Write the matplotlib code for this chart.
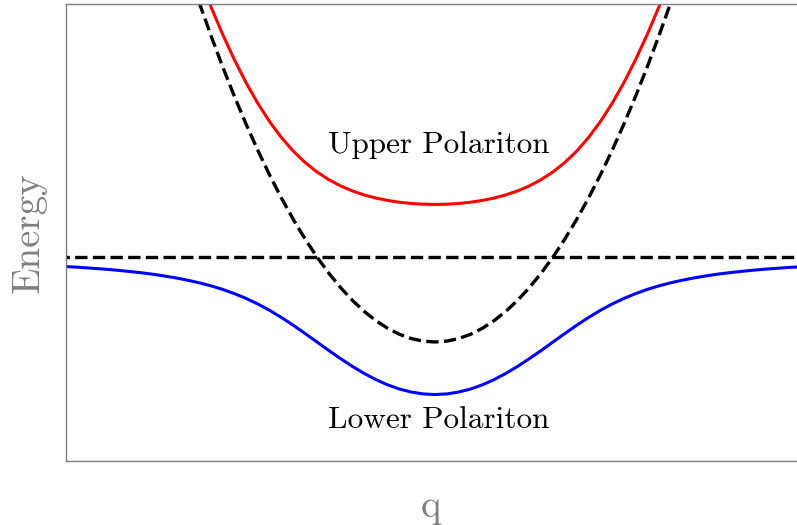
import matplotlib
matplotlib.use("Agg")
import matplotlib.pyplot as plt

plt.rcParams['font.family'] = 'cmr10'

# Photon dispersion (dashed parabola)
q_photon = [-2.0, -1.9, -1.8, -1.7, -1.6, -1.5, -1.4, -1.3, -1.2, -1.1, -1.0,
            -0.9, -0.8, -0.7, -0.6, -0.5, -0.4, -0.3, -0.2, -0.1, 0.0,
            0.1, 0.2, 0.3, 0.4, 0.5, 0.6, 0.7, 0.8, 0.9, 1.0,
            1.1, 1.2, 1.3, 1.4, 1.5, 1.6, 1.7, 1.8, 1.9, 2.0]
E_photon = [3.0, 2.61, 2.24, 1.89, 1.56, 1.25, 0.96, 0.69, 0.44, 0.21, 0.0,
            -0.19, -0.36, -0.51, -0.64, -0.75, -0.84, -0.91, -0.96, -0.99, -1.0,
            -0.99, -0.96, -0.91, -0.84, -0.75, -0.64, -0.51, -0.36, -0.19, 0.0,
            0.21, 0.44, 0.69, 0.96, 1.25, 1.56, 1.89, 2.24, 2.61, 3.0]

# Exciton level (flat dashed line)
q_exciton = [-3.2, 3.2]
E_exciton = [0.0, 0.0]

# Upper polariton branch
q_upper = q_photon
E_upper = [3.303, 2.949, 2.621, 2.321, 2.048, 1.804, 1.589, 1.403, 1.244, 1.111, 1.0,
           0.910, 0.836, 0.777, 0.730, 0.693, 0.665, 0.644, 0.629, 0.621, 0.618,
           0.621, 0.629, 0.644, 0.665, 0.693, 0.730, 0.777, 0.836, 0.910, 1.0,
           1.111, 1.244, 1.403, 1.589, 1.804, 2.048, 2.321, 2.621, 2.949, 3.303]

# Lower polariton branch
q_lower = [-3.2, -3.1, -3.0, -2.9, -2.8, -2.7, -2.6, -2.5, -2.4, -2.3, -2.2, -2.1,
           -2.0, -1.9, -1.8, -1.7, -1.6, -1.5, -1.4, -1.3, -1.2, -1.1, -1.0,
           -0.9, -0.8, -0.7, -0.6, -0.5, -0.4, -0.3, -0.2, -0.1, 0.0,
           0.1, 0.2, 0.3, 0.4, 0.5, 0.6, 0.7, 0.8, 0.9, 1.0,
           1.1, 1.2, 1.3, 1.4, 1.5, 1.6, 1.7, 1.8, 1.9, 2.0,
           2.1, 2.2, 2.3, 2.4, 2.5, 2.6, 2.7, 2.8, 2.9, 3.0, 3.1, 3.2]
E_lower = [-0.107, -0.115, -0.123, -0.133, -0.143, -0.155, -0.169, -0.184, -0.201,
           -0.222, -0.245, -0.272, -0.303, -0.339, -0.381, -0.431, -0.488, -0.554,
           -0.629, -0.713, -0.804, -0.901, -1.0, -1.100, -1.196, -1.287, -1.370,
           -1.443, -1.505, -1.554, -1.589, -1.611, -1.618,
           -1.611, -1.589, -1.554, -1.505, -1.443, -1.370, -1.287, -1.196, -1.100,
           -1.0, -0.901, -0.804, -0.713, -0.629, -0.554, -0.488, -0.431, -0.381,
           -0.339, -0.303, -0.272, -0.245, -0.222, -0.201, -0.184, -0.169, -0.155,
           -0.143, -0.133, -0.123, -0.115, -0.107]

fig = plt.figure(figsize=(7.97, 5.25), dpi=100)
ax = fig.add_axes([66 / 797, 64 / 525, 731 / 797, 457 / 525])

ax.plot(q_upper, E_upper, color='red', lw=2.2)
ax.plot(q_lower, E_lower, color='blue', lw=2.2)
ax.plot(q_photon, E_photon, color='black', lw=2.4, ls='--')
ax.plot(q_exciton, E_exciton, color='black', lw=2.4, ls='--')

ax.text(0.03, 1.318, 'Upper Polariton', fontsize=22.5, ha='center', va='center')
ax.text(0.03, -1.915, 'Lower Polariton', fontsize=22.5, ha='center', va='center')

ax.set_xlim(-3.127, 3.068)
ax.set_ylim(-2.4, 2.976)
ax.set_xticks([])
ax.set_yticks([])
for side in ['left', 'bottom', 'top']:
    ax.spines[side].set_color('#808080')
    ax.spines[side].set_linewidth(1.0)
ax.spines['right'].set_visible(False)

ax.set_xlabel('q', fontsize=28, color='#808080', labelpad=20)
ax.set_ylabel('Energy', fontsize=28, color='#808080', labelpad=14)

fig.savefig('out.png', dpi=100)
